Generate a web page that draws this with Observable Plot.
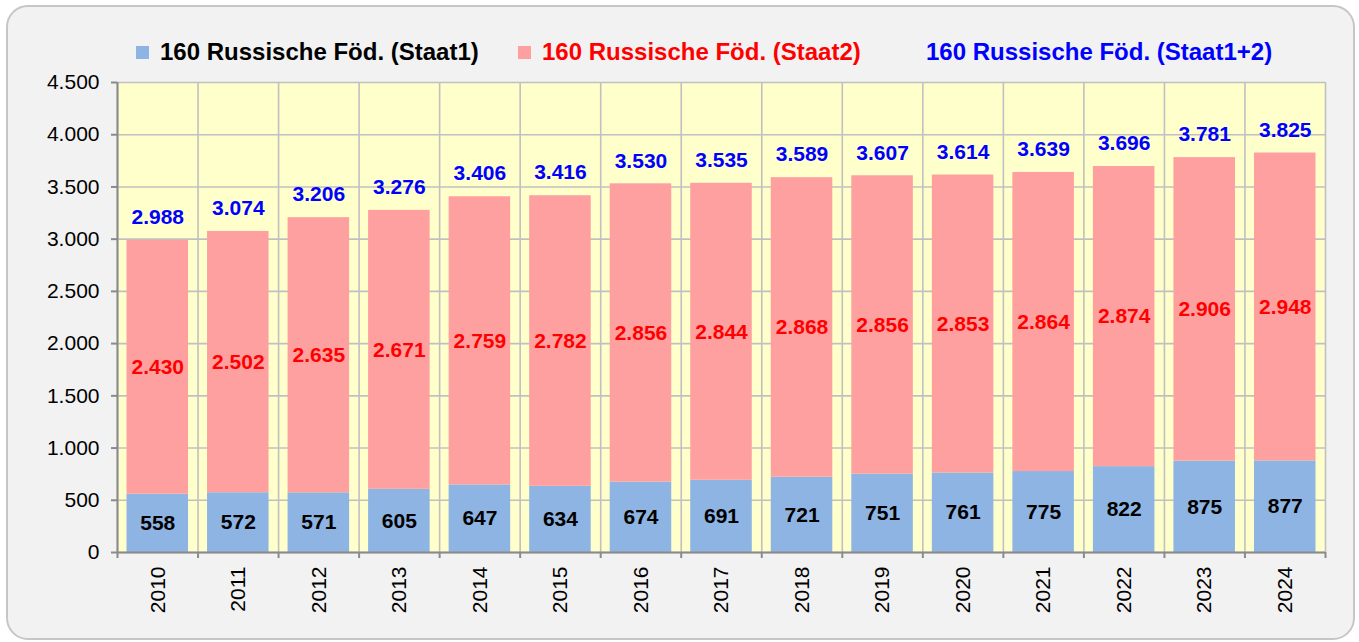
<!DOCTYPE html>
<html><head><meta charset="utf-8">
<script src="https://cdn.jsdelivr.net/npm/d3@7"></script>
<script src="https://cdn.jsdelivr.net/npm/@observablehq/plot@0.6"></script>
<style>
body{margin:0;background:#fff;font-family:"Liberation Sans",Arial,sans-serif;}
#wrap{position:relative;width:1359px;height:642px;overflow:hidden;}
#frame{position:absolute;left:6px;top:5px;width:1345px;height:631px;border:2px solid #c6c6c6;border-radius:22px;background:#f2f2f2;z-index:0;}
#legend{position:relative;height:70px;font-weight:bold;font-size:24px;z-index:1;}
.item{position:absolute;top:38px;white-space:nowrap;line-height:28px;display:flex;align-items:center;}
.sw{display:inline-block;width:13px;height:13px;margin-right:11px;}
#chart{position:relative;z-index:1;}
</style>
</head><body>
<div id="wrap">
  <div id="frame"></div>
  <div id="legend"></div>
  <div id="chart"></div>
</div>
<script>
const years  = [2010,2011,2012,2013,2014,2015,2016,2017,2018,2019,2020,2021,2022,2023,2024];
const staat1 = [558,572,571,605,647,634,674,691,721,751,761,775,822,875,877];
const staat2 = [2430,2502,2635,2671,2759,2782,2856,2844,2868,2856,2853,2864,2874,2906,2948];
const total  = [2988,3074,3206,3276,3406,3416,3530,3535,3589,3607,3614,3639,3696,3781,3825];
const yTicks = [0,500,1000,1500,2000,2500,3000,3500,4000,4500];
const seriesNames = ["160 Russische Föd. (Staat1)","160 Russische Föd. (Staat2)","160 Russische Föd. (Staat1+2)"];

const cBlue = "#8DB4E2", cPink = "#FFA0A0", cGrid = "#c0c0c0", cAxis = "#8a8a8a";

const de = d3.formatLocale({decimal:",", thousands:".", grouping:[3], currency:["","€"]});
const fmt = de.format(",d");

const rows = years.map((y,i)=>({i, year:y, s1:staat1[i], s2:staat2[i], total:total[i]}));

// legend
const legend = document.getElementById("legend");
const legendItems = [
  {name:seriesNames[0], swatch:cBlue, color:"#000", left:136},
  {name:seriesNames[1], swatch:cPink, color:"#FF0000", left:518},
  {name:seriesNames[2], swatch:null, color:"#0000FF", left:926}
];
for (const it of legendItems) {
  const d = document.createElement("div");
  d.className = "item";
  d.style.left = it.left + "px";
  d.style.color = it.color;
  if (it.swatch) {
    const s = document.createElement("span");
    s.className = "sw"; s.style.background = it.swatch;
    d.appendChild(s);
  }
  const t = document.createElement("span");
  t.textContent = it.name;
  d.appendChild(t);
  legend.appendChild(d);
}

const bounds = d3.range(years.length + 1);
const centers = years.map((_, i) => i + 0.5);

const chart = Plot.plot({
  width: 1359,
  height: 572,
  marginTop: 12,
  marginBottom: 90,
  marginLeft: 117,
  marginRight: 34,
  x: {domain: [0, years.length]},
  y: {domain: [0, 4500]},
  style: {background: "transparent", fontFamily: "'Liberation Sans', Arial, sans-serif", fontSize: "21px", color: "#000"},
  marks: [
    Plot.frame({fill: "#FFFFCC", stroke: "none"}),
    Plot.gridY({ticks: yTicks, stroke: cGrid, strokeOpacity: 1, strokeWidth: 1.6}),
    Plot.gridX({ticks: bounds, stroke: cGrid, strokeOpacity: 1, strokeWidth: 1.6}),
    Plot.rectY(rows, {x1: d => d.i, x2: d => d.i + 1, y1: 0, y2: d => d.s1, fill: cBlue, insetLeft: 9.5, insetRight: 9.5}),
    Plot.rectY(rows, {x1: d => d.i, x2: d => d.i + 1, y1: d => d.s1, y2: d => d.s1 + d.s2, fill: cPink, insetLeft: 9.5, insetRight: 9.5}),
    Plot.text(rows, {x: d => d.i + 0.5, y: d => d.s1 / 2, text: d => fmt(d.s1), fill: "#000", fontWeight: "bold", fontSize: 21}),
    Plot.text(rows, {x: d => d.i + 0.5, y: d => d.s1 + d.s2 / 2, text: d => fmt(d.s2), fill: "#FF0000", fontWeight: "bold", fontSize: 21}),
    Plot.text(rows, {x: d => d.i + 0.5, y: d => d.total, dy: -23, text: d => fmt(d.total), fill: "#0000FF", fontWeight: "bold", fontSize: 21}),
    Plot.ruleX([0], {stroke: cAxis, strokeWidth: 2}),
    Plot.ruleY([0], {stroke: cAxis, strokeWidth: 2}),
    Plot.axisY({ticks: yTicks, tickFormat: fmt, tickSize: 6, tickPadding: 12, stroke: cAxis, strokeWidth: 2, label: null, fontSize: 21}),
    Plot.axisX({ticks: bounds, tickFormat: () => "", tickSize: 6, stroke: cAxis, strokeWidth: 2, label: null}),
    Plot.axisX({ticks: centers, tickFormat: d => String(years[Math.round(d - 0.5)]), tickSize: 0, tickPadding: 14, tickRotate: -90, label: null, fontSize: 21})
  ]
});
document.getElementById("chart").appendChild(chart);
</script>
</body></html>
